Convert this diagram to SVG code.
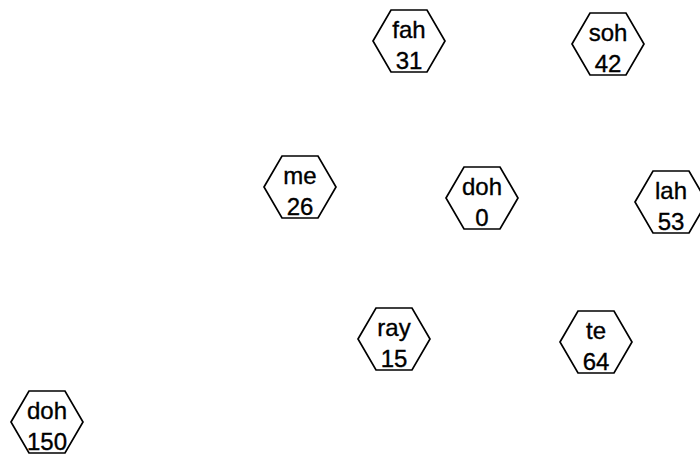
<svg xmlns="http://www.w3.org/2000/svg" width="700" height="455" viewBox="0 0 700 455">
<defs>
<style>
.hex{fill:#fff;stroke:#000;stroke-width:1.7;stroke-linejoin:miter}
text{font-family:"Liberation Sans",Arial,sans-serif;font-size:24px;fill:#000;stroke:#000;stroke-width:0.35;text-anchor:middle}
</style>
<polygon id="hexShape" class="hex" points="-36,0 -18,-31 18,-31 36,0 18,31 -18,31"/>
</defs>
<rect width="700" height="455" fill="#fff"/>
<g id="connectors"></g>
<g id="node-fah" transform="translate(409,41)"><use href="#hexShape"/><text x="0" y="-3">fah</text><text x="0" y="28">31</text></g>
<g id="node-soh" transform="translate(608,44)"><use href="#hexShape"/><text x="0" y="-3">soh</text><text x="0" y="28">42</text></g>
<g id="node-me" transform="translate(300,187)"><use href="#hexShape"/><text x="0" y="-3">me</text><text x="0" y="28">26</text></g>
<g id="node-doh0" transform="translate(482,198)"><use href="#hexShape"/><text x="0" y="-3">doh</text><text x="0" y="28">0</text></g>
<g id="node-lah" transform="translate(671,202)"><use href="#hexShape"/><text x="0" y="-3">lah</text><text x="0" y="28">53</text></g>
<g id="node-ray" transform="translate(394,339)"><use href="#hexShape"/><text x="0" y="-3">ray</text><text x="0" y="28">15</text></g>
<g id="node-te" transform="translate(596,342)"><use href="#hexShape"/><text x="0" y="-3">te</text><text x="0" y="28">64</text></g>
<g id="node-doh150" transform="translate(47,422)"><use href="#hexShape"/><text x="0" y="-3">doh</text><text x="0" y="28">150</text></g>
</svg>
